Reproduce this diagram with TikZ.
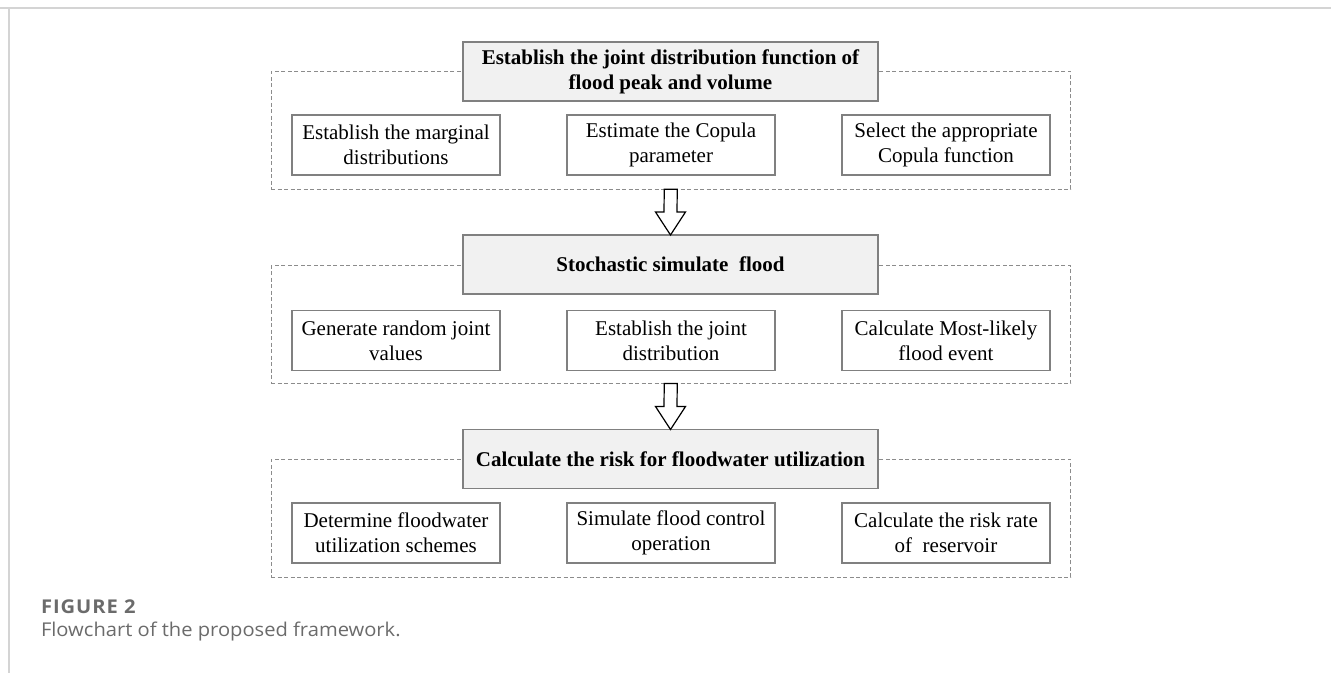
\documentclass[tikz,border=0pt]{standalone}
\usepackage{fontspec}
\setmainfont{Liberation Serif}
\newfontfamily\capfont[FakeStretch=1.06]{Open Sans}
\newfontfamily\capboldfont[FakeStretch=1.06,LetterSpace=5.0]{Open Sans}
\usetikzlibrary{calc}
\definecolor{framegray}{HTML}{D4D4D4}
\definecolor{dashgray}{HTML}{8C8C8C}
\definecolor{boxgray}{HTML}{808080}
\definecolor{titlefill}{HTML}{F1F1F1}
\definecolor{capgray}{HTML}{6B6B6B}
\begin{document}
\begin{tikzpicture}[x=1pt,y=-1pt,
  every node/.style={inner sep=0pt, outer sep=0pt},
  dashbox/.style={draw=dashgray, dash pattern=on 4pt off 2.5pt, line width=1pt, minimum width=799.5pt, minimum height=118pt},
  titlebox/.style={draw=boxgray, fill=titlefill, line width=1.3pt, minimum width=415pt, minimum height=59pt, font=\fontsize{21}{25}\selectfont\bfseries, align=center},
  subbox/.style={draw=boxgray, fill=white, line width=1.2pt, minimum width=208pt, minimum height=60pt, font=\fontsize{21}{25}\selectfont, align=center},
  bigarrow/.style={draw=black, fill=white, line width=1.2pt, line join=miter},
  captitle/.style={anchor=base west, text=capgray, font=\capboldfont\bfseries\fontsize{19}{22}\selectfont},
  captext/.style={anchor=base west, text=capgray, font=\capfont\fontsize{19}{22}\selectfont}]
\useasboundingbox (0,0) rectangle (1331,673);
\draw[framegray, line width=2pt] (0,8) -- (1331,8);
\draw[framegray, line width=1.5pt] (9,8) -- (9,673);

% stage 1
\node[dashbox] (d1) at (670.75,130.25) {};
\node[titlebox] (t1) at (670.5,71.5) {Establish the joint distribution function of\\flood peak and volume};
\node[subbox] (a1) at (396,145) {Establish the marginal\\distributions};
\node[subbox] (a2) at (671,145) {Estimate the Copula\\parameter};
\node[subbox] (a3) at (946,145) {Select the appropriate\\Copula function};

% stage 2
\node[dashbox] (d2) at (670.75,324.5) {};
\node[titlebox] (t2) at (670.5,264.5) {Stochastic simulate~ flood};
\node[subbox] (b1) at (396,340.5) {Generate random joint\\values};
\node[subbox] (b2) at (671,340.5) {Establish the joint\\distribution};
\node[subbox] (b3) at (946,340.5) {Calculate Most-likely\\flood event};

% stage 3
\node[dashbox] (d3) at (670.75,518.25) {};
\node[titlebox] (t3) at (670.5,459) {Calculate the risk for floodwater utilization};
\node[subbox] (c1) at (396,533) {Determine floodwater\\utilization schemes};
\node[subbox] (c2) at (671,533) {Simulate flood control\\operation};
\node[subbox] (c3) at (946,533) {Calculate the risk rate\\of~ reservoir};

% arrows
\draw[bigarrow] ([xshift=-6.5pt]d1.south) -- ([xshift=-6.5pt,yshift=23pt]t2.north)
  -- ([xshift=-15pt,yshift=23pt]t2.north) -- (t2.north)
  -- ([xshift=15pt,yshift=23pt]t2.north) -- ([xshift=6.5pt,yshift=23pt]t2.north)
  -- ([xshift=6.5pt]d1.south) -- cycle;
\draw[bigarrow] ([xshift=-6.5pt]d2.south) -- ([xshift=-6.5pt,yshift=23pt]t3.north)
  -- ([xshift=-15pt,yshift=23pt]t3.north) -- (t3.north)
  -- ([xshift=15pt,yshift=23pt]t3.north) -- ([xshift=6.5pt,yshift=23pt]t3.north)
  -- ([xshift=6.5pt]d2.south) -- cycle;

% caption
\node[captitle] (fig) at (41,613) {FIGURE 2};
\node[captext] (cap) at (41,636) {Flowchart of the proposed framework.};
\end{tikzpicture}
\end{document}
